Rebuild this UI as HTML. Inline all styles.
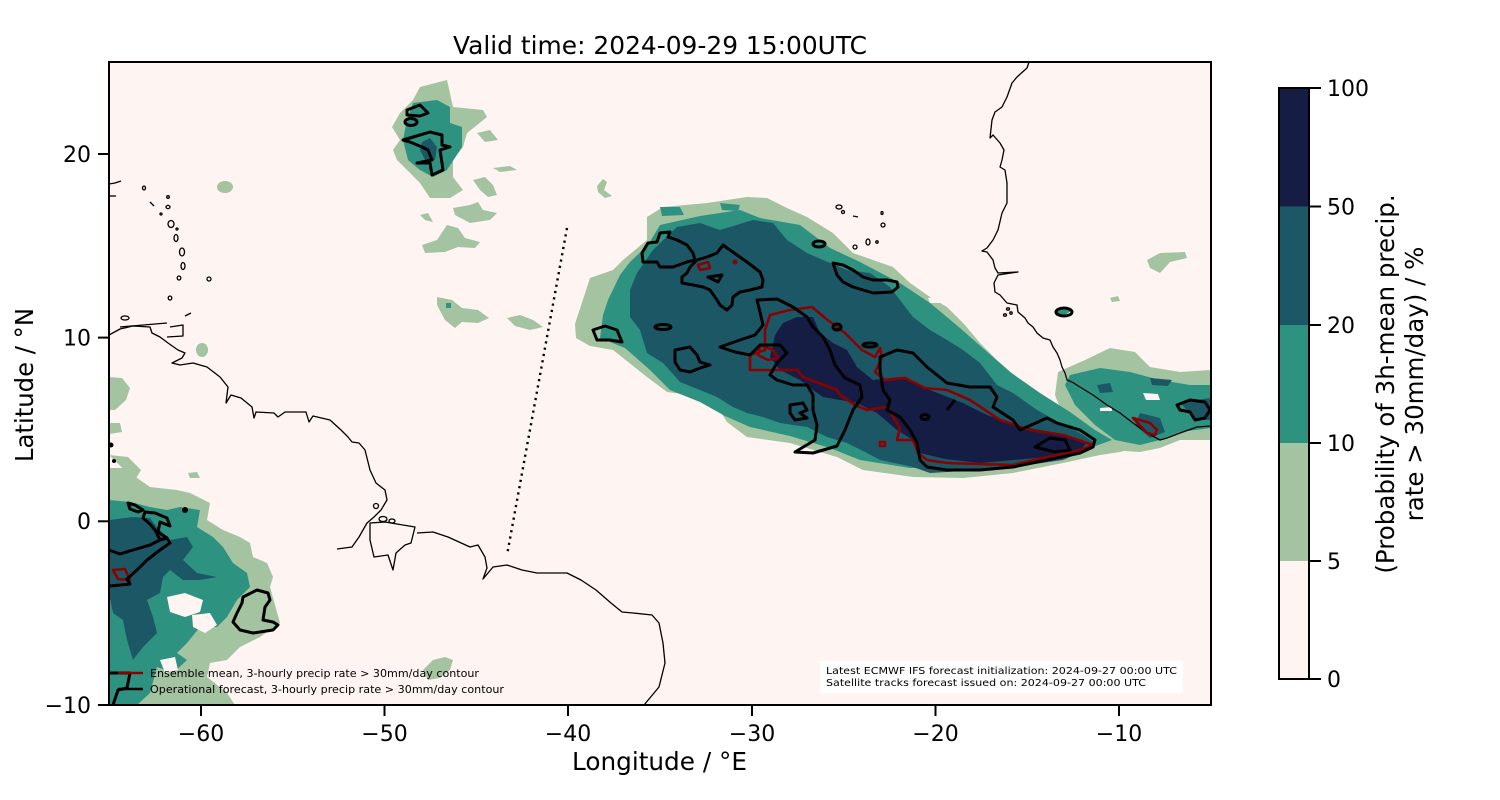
<!DOCTYPE html>
<html><head><meta charset="utf-8"><style>
html,body{margin:0;padding:0;background:#fff;}
svg{display:block;}
text{font-family:"DejaVu Sans","Liberation Sans",sans-serif;fill:#000;}
</style></head><body>
<svg width="1500" height="800" viewBox="0 0 1500 800" xmlns="http://www.w3.org/2000/svg">
<defs><clipPath id="pc"><rect x="109" y="62" width="1102" height="643"/></clipPath></defs>
<rect x="0" y="0" width="1500" height="800" fill="#fff"/>
<rect x="109" y="62" width="1102" height="643" fill="#fef4f2"/>
<g clip-path="url(#pc)">
<g fill="#a3c3a1">
<path d="M575,324 L590,278 L613,270 L623,260 L647,240 L647,217 L663,207 L707,203 L747,197 L767,198 L787,208 L807,217 L833,233 L853,253 L873,260 L893,267 L910,283 L930,297 L947,307 L965,325 L980,343 L997,360 L1020,380 L1040,397 L1067,413 L1087,430 L1113,440 L1140,447 L1120,452 L1100,455 L1063,463 L1013,473 L963,478 L913,477 L863,470 L837,457 L790,443 L747,437 L727,422 L713,400 L690,395 L667,392 L647,377 L613,350 L590,346 L576,338 Z"/>
<path d="M1058,372 L1085,360 L1110,348 L1135,352 L1150,367 L1180,372 L1211,370 L1211,440 L1180,440 L1160,448 L1140,452 L1110,450 L1090,440 L1065,420 L1055,395 Z"/>
<path d="M420,87 L447,80 L453,107 L483,110 L487,117 L467,133 L463,147 L453,160 L453,177 L463,190 L450,198 L430,198 L420,183 L407,170 L397,160 L393,150 L400,140 L392,127 L400,113 L413,100 Z"/>
<path d="M109,468 L125,468 L137,478 L150,487 L177,490 L190,493 L210,503 L207,520 L223,530 L240,537 L250,543 L253,557 L267,563 L273,577 L270,587 L280,623 L260,637 L240,647 L227,660 L210,663 L207,677 L227,693 L235,705 L109,705 Z"/>
<ellipse cx="225" cy="187" rx="8" ry="6"/>
<ellipse cx="202" cy="350" rx="6" ry="7"/>
<path d="M437,297 L452,300 L462,308 L478,310 L489,318 L478,323 L462,322 L455,328 L445,320 L437,305 Z"/>
<path d="M507,318 L520,315 L533,320 L543,327 L530,330 L515,326 Z"/>
<path d="M422,245 L437,240 L447,225 L458,228 L465,238 L480,242 L475,248 L458,247 L445,252 L425,253 Z"/>
<path d="M453,208 L470,205 L478,202 L483,210 L497,213 L490,220 L470,223 L455,215 Z"/>
<path d="M473,180 L485,177 L493,185 L497,195 L488,197 L480,190 Z"/>
<path d="M477,133 L490,130 L498,140 L485,142 Z"/>
<path d="M493,168 L510,166 L517,170 L500,172 Z"/>
<path d="M420,215 L428,213 L433,222 L425,220 Z"/>
<path d="M597,186 L603,179 L607,182 L604,190 L612,196 L605,198 L598,192 Z"/>
<path d="M1147,260 L1160,253 L1185,252 L1187,258 L1170,262 L1160,273 L1150,268 Z"/>
<path d="M1110,298 L1118,296 L1120,301 L1112,302 Z"/>
<path d="M423,670 L433,660 L445,657 L453,660 L450,670 L440,678 L428,680 Z"/>
<path d="M109,377 L122,378 L130,388 L126,400 L115,410 L109,410 Z"/>
<path d="M109,423 L120,423 L122,432 L109,434 Z"/>
<path d="M109,455 L128,457 L141,470 L135,480 Z"/>
<path d="M188,473 L197,472 L200,478 L190,478 Z"/>
</g>
<g fill="#2e9280">
<path d="M603,315 L608,300 L620,275 L630,262 L648,245 L660,225 L700,216 L740,210 L760,218 L800,225 L830,248 L860,262 L900,283 L930,303 L960,328 L985,350 L1010,372 L1040,393 L1070,412 L1095,430 L1112,440 L1090,448 L1060,455 L1010,463 L960,468 L910,468 L860,460 L830,448 L790,436 L750,427 L725,416 L700,402 L670,390 L650,370 L625,348 L600,338 Z"/>
<path d="M1065,385 L1070,375 L1100,368 L1130,372 L1160,380 L1190,385 L1211,385 L1211,428 L1180,432 L1160,440 L1140,445 L1115,440 L1095,425 L1075,405 Z"/>
<path d="M413,103 L437,100 L450,107 L450,123 L462,127 L462,147 L447,170 L433,177 L420,170 L408,160 L403,140 L407,120 Z"/>
<path d="M109,500 L130,502 L150,507 L167,510 L180,507 L200,510 L197,527 L213,537 L223,547 L233,563 L247,573 L250,587 L237,600 L227,617 L217,627 L200,627 L187,643 L177,653 L187,660 L173,673 L157,667 L150,693 L137,705 L109,705 Z"/>
<rect x="446" y="303" width="5" height="5"/>
<path d="M1057,310 L1065,308 L1071,311 L1065,315 L1057,314 Z"/>
<path d="M660,207 L680,207 L684,215 L662,216 Z"/>
<path d="M720,203 L740,205 L738,211 L722,210 Z"/>
</g>
<g fill="#1c5766">
<path d="M630,290 L637,273 L653,250 L677,227 L700,223 L720,230 L753,220 L773,223 L787,240 L807,253 L823,260 L847,270 L870,273 L890,287 L900,300 L913,317 L930,330 L947,340 L963,350 L980,363 L997,385 L1013,393 L1037,410 L1060,423 L1080,433 L1095,443 L1093,447 L1063,460 L1013,467 L980,470 L930,473 L913,467 L880,460 L867,453 L847,443 L827,437 L807,427 L780,423 L763,417 L747,413 L733,407 L717,397 L700,390 L680,382 L663,363 L647,353 L640,330 L630,317 Z"/>
<path d="M422,142 L430,138 L437,147 L435,160 L425,160 L420,150 Z"/>
<path d="M109,520 L133,517 L150,518 L157,527 L170,540 L187,537 L193,547 L183,560 L197,573 L217,577 L200,580 L183,580 L170,570 L163,577 L160,593 L147,600 L153,617 L157,633 L143,647 L133,660 L127,640 L123,620 L113,613 L109,593 Z"/>
<path d="M1097,385 L1110,383 L1113,392 L1100,393 Z"/>
<path d="M1150,378 L1172,380 L1168,386 L1152,385 Z"/>
<path d="M1180,402 L1211,398 L1211,420 L1195,420 Z"/>
<path d="M1140,413 L1160,418 L1165,432 L1150,438 L1135,425 Z"/>
</g>
<g fill="#161d45">
<path d="M770,357 L775,335 L783,323 L797,317 L813,317 L820,333 L833,343 L847,350 L857,367 L873,380 L900,377 L930,390 L963,403 L987,415 L1023,427 L1057,433 L1087,443 L1080,450 L1047,457 L1013,460 L980,463 L945,459 L920,453 L913,440 L897,430 L877,413 L857,403 L823,397 L813,390 L800,380 L780,370 Z"/>
</g>
<g fill="#fef4f2">
<path d="M167,597 L185,593 L203,600 L200,612 L185,617 L170,612 Z"/>
<path d="M192,615 L210,613 L217,625 L205,633 L193,627 Z"/>
<path d="M160,660 L175,657 L178,670 L165,673 Z"/>
<path d="M928,298 L938,297 L940,303 L930,303 Z"/>
<path d="M1143,393 L1158,394 L1160,400 L1146,400 Z"/>
<path d="M1100,408 L1112,407 L1112,411 L1100,411 Z"/>
</g>
<g fill="none" stroke="#000" stroke-width="1.3" stroke-linejoin="round">
<polyline points="109,335 120,329 133,326 150,327 152,333 160,337 168,343 178,350 185,353 182,358 172,363 180,365 193,363 207,367 220,377 228,387 226,403 231,395 241,398 252,407 254,418 256,412 274,413 278,417 285,412 306,412 309,422 313,416 330,420 341,430 348,437 352,442 359,443 365,450 370,470 376,483 385,490 387,500 381,510 374,517 367,523 359,537 352,547 337,549"/>
<polyline points="120,327 167,323"/>
<path d="M170,327 L183,325 L183,336 L167,337"/>
<path d="M370,523 L385,522 L415,527 L411,543 L405,545 L396,553 L393,570 L388,555 L374,557 L370,540 Z"/>
<ellipse cx="383" cy="519" rx="4" ry="2.5"/>
<ellipse cx="392" cy="521" rx="3" ry="2"/>
<ellipse cx="376" cy="506" rx="2.5" ry="2.5"/>
<polyline points="417,533 433,532 448,537 470,547 478,545 485,557 487,568 483,579 493,567 507,565 522,570 537,573 567,573 581,580 596,590 611,603 622,612 633,613 652,615 659,623 663,643 665,663 659,687 644,705"/>
<polyline points="1029,62 1027,68 1017,77 1012,83 1007,97 1002,107 995,112 992,120 990,138 993,135 1000,143 1004,150 1002,160 1000,167 1005,170 1007,183 1007,203 1002,213 998,230 993,240 987,248 982,251 987,252 993,260 995,268 998,273 1018,272 998,275 994,283 995,292 1000,295 1007,303 1017,305 1018,312 1025,318 1028,323 1033,327 1037,333 1043,338 1050,340 1053,347 1057,353 1060,360 1062,367 1065,373 1067,380 1072,382 1080,387 1093,395 1107,405 1120,413 1133,423 1147,433 1160,440 1167,438 1180,433 1197,427 1211,426"/>
<polyline points="109,184 115,183 121,181"/>
<polyline points="109,196 116,196"/>
<ellipse cx="144" cy="188" rx="1.5" ry="2"/>
<polyline points="150,202 154,206"/>
<ellipse cx="168" cy="197" rx="1.3" ry="1.3"/>
<ellipse cx="168" cy="207" rx="2" ry="1.6"/>
<ellipse cx="161" cy="214" rx="1" ry="1"/>
<ellipse cx="171" cy="224" rx="3" ry="3.5"/>
<ellipse cx="177" cy="229" rx="1" ry="1"/>
<ellipse cx="176" cy="238" rx="2" ry="3.5"/>
<ellipse cx="182" cy="252" rx="2.5" ry="4"/>
<ellipse cx="183" cy="266" rx="2" ry="3.5"/>
<ellipse cx="179" cy="278" rx="1.8" ry="2"/>
<ellipse cx="209" cy="279" rx="2" ry="2"/>
<ellipse cx="170" cy="298" rx="1.8" ry="2"/>
<polyline points="185,316 191,313"/>
<ellipse cx="125" cy="318" rx="4" ry="2"/>
<ellipse cx="839" cy="207" rx="3" ry="2"/>
<ellipse cx="843" cy="212" rx="1.5" ry="1.5"/>
<polyline points="853,216 858,217"/>
<ellipse cx="882" cy="213" rx="1" ry="1.5"/>
<ellipse cx="883" cy="225" rx="2" ry="2"/>
<ellipse cx="855" cy="247" rx="2" ry="2"/>
<ellipse cx="868" cy="242" rx="2" ry="3"/>
<ellipse cx="877" cy="242" rx="1.2" ry="1.2"/>
<ellipse cx="1008" cy="309" rx="1.5" ry="1.2"/>
<ellipse cx="1005" cy="315" rx="1.5" ry="1.2"/>
<ellipse cx="1011" cy="313" rx="1.2" ry="1.2"/>
</g>
<line x1="567" y1="228" x2="507" y2="555" stroke="#000" stroke-width="2.4" stroke-dasharray="2.2,4.2"/>
<g fill="none" stroke="#8b0000" stroke-width="2.6" stroke-linejoin="round">
<path d="M750,370 L750,355 L765,350 L765,330 L770,315 L790,310 L812,307 L825,318 L845,333 L862,350 L875,357 L880,348 L882,358 L875,372 L885,380 L905,378 L925,388 L947,390 L970,400 L1000,420 L1030,430 L1063,435 L1093,445 L1080,450 L1047,457 L1013,465 L947,463 L927,460 L918,453 L913,440 L897,440 L900,428 L893,417 L887,407 L867,410 L855,405 L840,395 L837,390 L803,377 L797,370 L767,370 Z"/>
<path d="M760,345 L773,350 L778,358 L768,360 L758,355 Z"/>
<path d="M698,265 L708,262 L710,268 L700,270 Z"/>
<path d="M113,570 L125,569 L130,580 L118,579 Z"/>
<path d="M1133,418 L1150,423 L1157,430 L1155,435 L1147,433 Z"/>
<path d="M880,442 L885,442 L885,446 L880,446 Z"/>
</g>
<circle cx="735" cy="262" r="2.5" fill="#8b0000"/>
<g fill="none" stroke="#000" stroke-width="3" stroke-linejoin="round">
<path d="M642,253 L648,243 L657,242 L660,233 L670,232 L668,237 L677,240 L687,245 L693,253 L695,260 L687,262 L673,267 L660,267 L657,262 L643,262 Z"/>
<path d="M697,260 L707,257 L717,253 L723,245 L727,248 L737,255 L747,262 L760,272 L763,280 L762,287 L750,290 L740,292 L733,297 L732,305 L727,310 L720,305 L717,300 L710,290 L703,287 L693,285 L682,283 L682,277 L687,273 L690,267 Z"/>
<path d="M708,277 L722,275 L718,282 Z"/>
<path d="M833,263 L843,265 L853,270 L863,277 L873,280 L887,280 L897,282 L898,287 L892,292 L873,293 L863,290 L853,287 L843,282 L837,275 Z"/>
<ellipse cx="819" cy="244" rx="6" ry="3"/>
<ellipse cx="870" cy="345" rx="7" ry="2"/>
<ellipse cx="837" cy="327" rx="4" ry="3"/>
<path d="M593,330 L605,326 L617,330 L622,342 L610,340 L597,340 Z"/>
<path d="M675,350 L690,347 L697,355 L700,362 L710,365 L700,368 L690,372 L680,370 L675,362 Z"/>
<ellipse cx="663" cy="327" rx="8" ry="2.5"/>
<path d="M757,300 L777,299 L793,307 L807,317 L813,327 L823,337 L830,350 L835,365 L845,378 L860,385 L862,397 L853,410 L845,430 L837,446 L813,453 L795,452 L815,440 L817,425 L813,410 L813,395 L807,385 L793,385 L777,380 L770,375 L777,363 L787,353 L780,345 L760,345 L750,355 L735,352 L720,347 L740,340 L755,335 L763,325 L760,312 Z"/>
<path d="M790,405 L803,403 L807,410 L800,413 L807,418 L795,420 L790,413 Z"/>
<path d="M880,357 L897,350 L913,353 L927,367 L947,383 L970,387 L990,387 L997,397 L993,407 L1013,420 L1020,430 L1047,418 L1057,423 L1080,430 L1095,440 L1093,447 L1080,453 L1047,460 L1013,467 L980,470 L947,470 L927,467 L920,460 L917,443 L910,430 L900,417 L887,410 L890,400 L883,390 L880,370 Z"/>
<path d="M1035,447 L1050,438 L1065,440 L1070,450 L1055,452 Z"/>
<path d="M947,410 L955,400"/>
<ellipse cx="925" cy="417" rx="4" ry="2.5"/>
<path d="M1177,405 L1190,400 L1205,402 L1210,410 L1205,418 L1195,420 L1190,412 L1180,410 Z"/>
<ellipse cx="1064" cy="312" rx="8" ry="4"/>
<path d="M407,110 L420,105 L428,113 L420,116 L407,115 Z"/>
<ellipse cx="411" cy="122" rx="6" ry="3.5"/>
<path d="M403,140 L420,135 L430,132 L442,135 L442,145 L450,147 L440,150 L442,163 L443,170 L432,175 L430,163 L417,163 L432,160 L428,150 L422,147 L410,142 Z"/>
<path d="M109,550 L120,554 L133,550 L150,545 L160,540 L167,538 L170,543 L160,550 L147,560 L137,570 L127,579 L130,584 L110,586"/>
<path d="M167,538 L158,532 L160,522 L170,526 L167,518 L155,513 L145,512 L143,518 L150,524 L155,530 L160,540"/>
<path d="M128,503 L135,505 L143,510 L138,512 L130,509 Z"/>
<path d="M243,597 L257,590 L268,593 L270,600 L265,607 L263,620 L273,622 L278,625 L273,630 L253,633 L240,630 L233,622 L237,613 L242,603 Z"/>
<path d="M113,705 L118,690 L127,688 L130,673 L109,673"/>
</g>
<circle cx="185" cy="510" r="3" fill="#000"/>
<circle cx="111" cy="445" r="2.5" fill="#000"/>
<circle cx="114" cy="461" r="2" fill="#000"/>
</g>
<rect x="109" y="62" width="1102" height="643" fill="none" stroke="#000" stroke-width="2"/>
<line x1="118" y1="673" x2="143" y2="673" stroke="#8b0000" stroke-width="2.6"/>
<line x1="118" y1="689" x2="143" y2="689" stroke="#000" stroke-width="2.6"/>
<text x="150" y="677" font-size="11" textLength="329" lengthAdjust="spacingAndGlyphs">Ensemble mean, 3-hourly precip rate &gt; 30mm/day contour</text>
<text x="150" y="693" font-size="11" textLength="354" lengthAdjust="spacingAndGlyphs">Operational forecast, 3-hourly precip rate &gt; 30mm/day contour</text>
<rect x="820" y="661" width="363" height="32" fill="#fff"/>
<text x="826" y="674" font-size="9.8" textLength="351" lengthAdjust="spacingAndGlyphs">Latest ECMWF IFS forecast initialization: 2024-09-27 00:00 UTC</text>
<text x="826" y="686" font-size="9.8" textLength="320" lengthAdjust="spacingAndGlyphs">Satellite tracks forecast issued on: 2024-09-27 00:00 UTC</text>
<g stroke="#000" stroke-width="2">
<line x1="201" y1="705" x2="201" y2="716"/>
<line x1="384.5" y1="705" x2="384.5" y2="716"/>
<line x1="568" y1="705" x2="568" y2="716"/>
<line x1="752" y1="705" x2="752" y2="716"/>
<line x1="935.5" y1="705" x2="935.5" y2="716"/>
<line x1="1119" y1="705" x2="1119" y2="716"/>
<line x1="98" y1="154" x2="109" y2="154"/>
<line x1="98" y1="337.6" x2="109" y2="337.6"/>
<line x1="98" y1="521.3" x2="109" y2="521.3"/>
<line x1="98" y1="705" x2="109" y2="705"/>
</g>
<g font-size="22" text-anchor="middle">
<text x="201" y="741">−60</text>
<text x="384.5" y="741">−50</text>
<text x="568" y="741">−40</text>
<text x="752" y="741">−30</text>
<text x="935.5" y="741">−20</text>
<text x="1119" y="741">−10</text>
</g>
<g font-size="22" text-anchor="end">
<text x="91" y="162">20</text>
<text x="91" y="345.5">10</text>
<text x="91" y="529">0</text>
<text x="91" y="713">−10</text>
</g>
<text x="453" y="54" font-size="24.5" textLength="414" lengthAdjust="spacingAndGlyphs">Valid time: 2024-09-29 15:00UTC</text>
<text x="572" y="770" font-size="24.5" textLength="175" lengthAdjust="spacingAndGlyphs">Longitude / °E</text>
<text transform="translate(33,462) rotate(-90)" font-size="24.5" textLength="154" lengthAdjust="spacingAndGlyphs">Latitude / °N</text>
<rect x="1279" y="561" width="30" height="118" fill="#fef4f2"/>
<rect x="1279" y="443" width="30" height="118" fill="#a3c3a1"/>
<rect x="1279" y="325" width="30" height="118" fill="#2e9280"/>
<rect x="1279" y="206.5" width="30" height="118.5" fill="#1c5766"/>
<rect x="1279" y="88" width="30" height="118.5" fill="#161d45"/>
<rect x="1279" y="88" width="30" height="591" fill="none" stroke="#000" stroke-width="2"/>
<g stroke="#000" stroke-width="2">
<line x1="1309" y1="88" x2="1321" y2="88"/>
<line x1="1309" y1="206.5" x2="1321" y2="206.5"/>
<line x1="1309" y1="325" x2="1321" y2="325"/>
<line x1="1309" y1="443" x2="1321" y2="443"/>
<line x1="1309" y1="561" x2="1321" y2="561"/>
<line x1="1309" y1="679" x2="1321" y2="679"/>
</g>
<g font-size="22">
<text x="1327" y="96">100</text>
<text x="1327" y="214.5">50</text>
<text x="1327" y="333">20</text>
<text x="1327" y="451">10</text>
<text x="1327" y="569">5</text>
<text x="1327" y="687">0</text>
</g>
<text transform="translate(1394,384) rotate(-90)" font-size="24.5" text-anchor="middle">(Probability of 3h-mean precip.</text>
<text transform="translate(1423,384) rotate(-90)" font-size="24.5" text-anchor="middle">rate &gt; 30mm/day) / %</text>
</svg>
</body></html>
